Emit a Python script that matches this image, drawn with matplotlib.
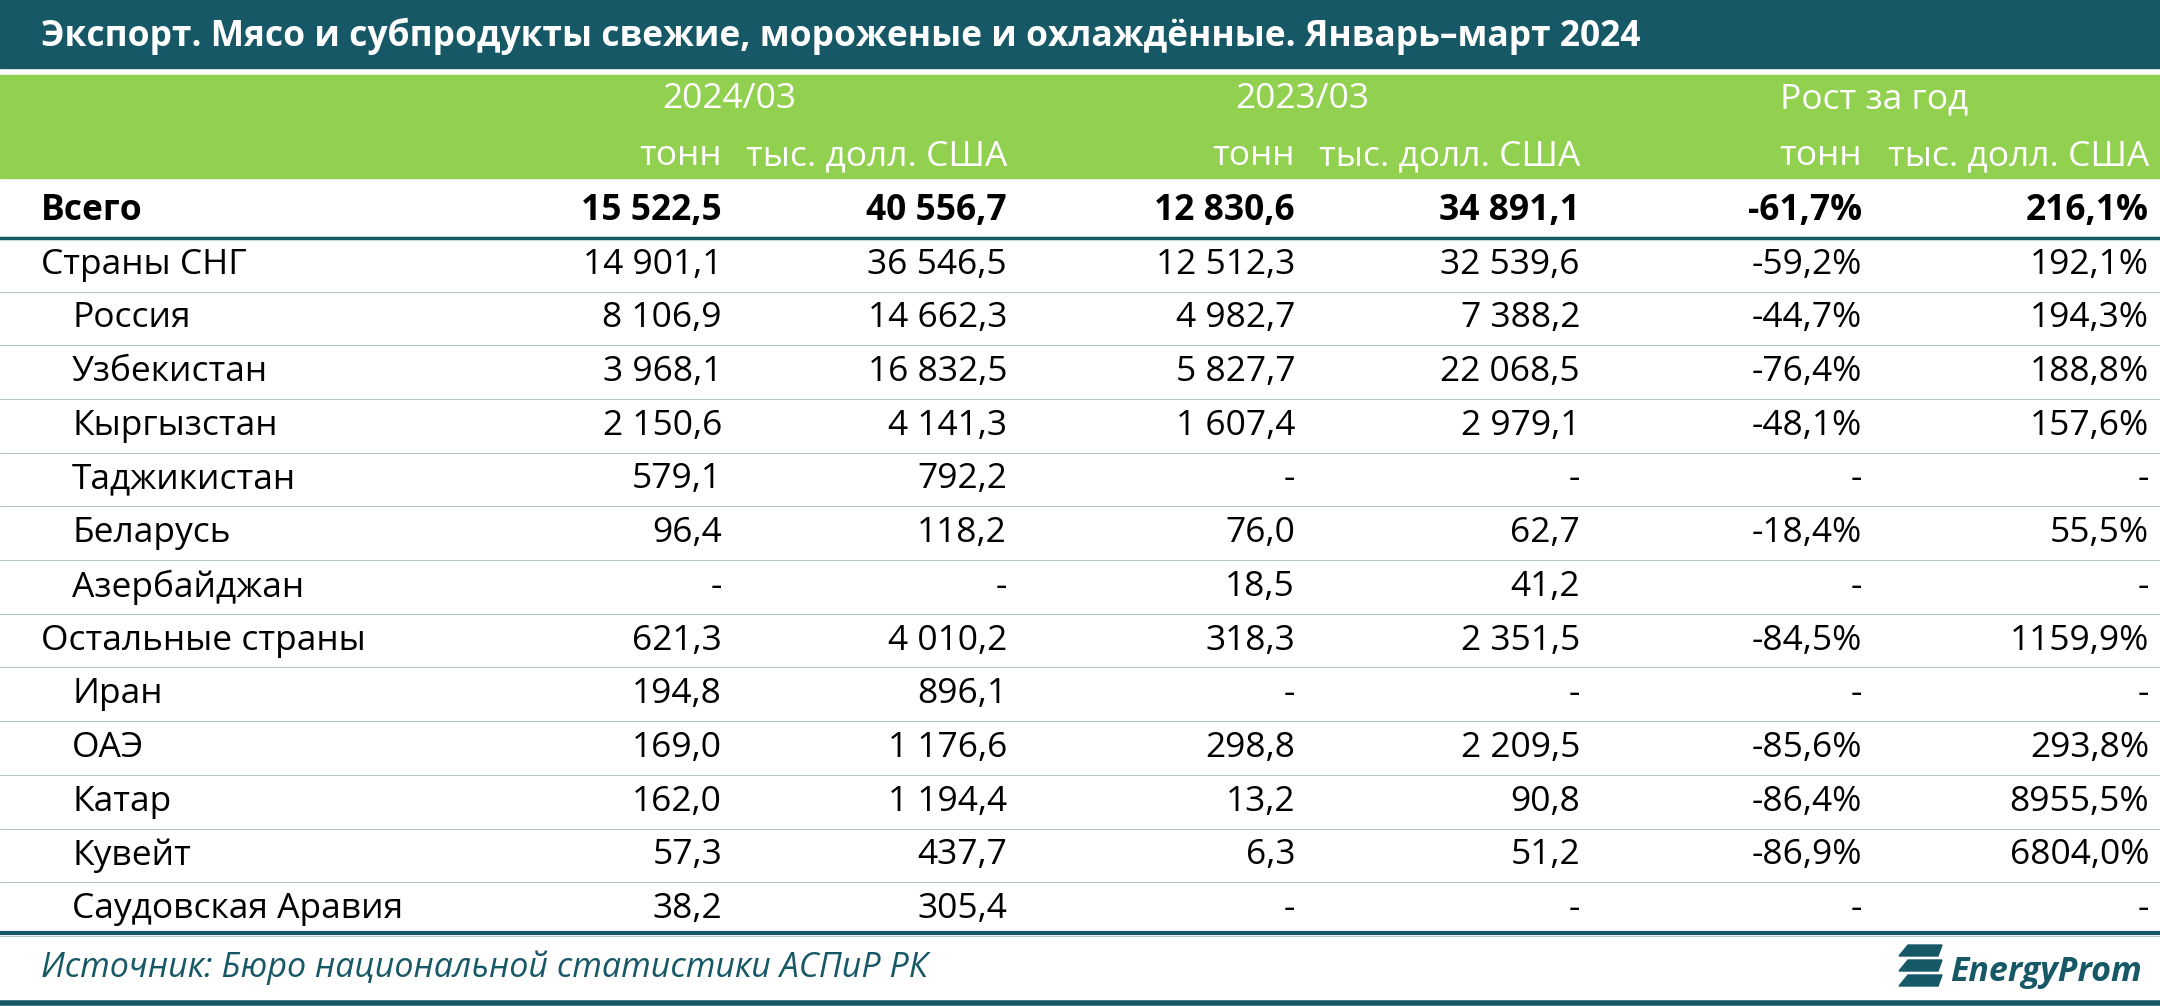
import matplotlib
matplotlib.use("Agg")
import matplotlib.pyplot as plt
from matplotlib.patches import Rectangle, Polygon

labels = ["Всего", "Страны СНГ", "Россия", "Узбекистан", "Кыргызстан", "Таджикистан", "Беларусь",
          "Азербайджан", "Остальные страны", "Иран", "ОАЭ", "Катар", "Кувейт", "Саудовская Аравия"]
indent = [0, 0, 1, 1, 1, 1, 1, 1, 0, 1, 1, 1, 1, 1]
t2024 = [15522.5, 14901.1, 8106.9, 3968.1, 2150.6, 579.1, 96.4, None, 621.3, 194.8, 169.0, 162.0, 57.3, 38.2]
usd2024 = [40556.7, 36546.5, 14662.3, 16832.5, 4141.3, 792.2, 118.2, None, 4010.2, 896.1, 1176.6, 1194.4, 437.7, 305.4]
t2023 = [12830.6, 12512.3, 4982.7, 5827.7, 1607.4, None, 76.0, 18.5, 318.3, None, 298.8, 13.2, 6.3, None]
usd2023 = [34891.1, 32539.6, 7388.2, 22068.5, 2979.1, None, 62.7, 41.2, 2351.5, None, 2209.5, 90.8, 51.2, None]
g_t = [-61.7, -59.2, -44.7, -76.4, -48.1, None, -18.4, None, -84.5, None, -85.6, -86.4, -86.9, None]
g_usd = [216.1, 192.1, 194.3, 188.8, 157.6, None, 55.5, None, 1159.9, None, 293.8, 8955.5, 6804.0, None]
groups = ["2024/03", "2023/03", "Рост за год"]
units = ["тонн", "тыс. долл. США"]

def fnum(v):
    if v is None:
        return "-"
    return f"{v:,.1f}".replace(",", " ").replace(".", ",")

def fpct(v):
    if v is None:
        return "-"
    return f"{v:.1f}%".replace(".", ",")

W, H = 2160, 1006
fig = plt.figure(figsize=(W/100, H/100), dpi=100)
ax = fig.add_axes([0, 0, 1, 1])
ax.set_xlim(0, W); ax.set_ylim(H, 0); ax.axis("off")
plt.rcParams['font.family'] = ['Open Sans', 'DejaVu Sans']
TEAL = "#175866"; GREEN = "#92d050"
fs = 25.5

ax.add_patch(Rectangle((0, 0), W, 68, color=TEAL))
ax.text(41, 36, "Экспорт. Мясо и субпродукты свежие, мороженые и охлаждённые. Январь–март 2024",
        color="white", fontsize=fs, fontweight="bold", va="center")
ax.add_patch(Rectangle((0, 75), W, 103, color=GREEN))

right = [722, 1007, 1295, 1580, 1862, 2149]
gcent = [729, 1302, 1874]
for g, c in zip(groups, gcent):
    ax.text(c, 99, g, color="white", fontsize=fs, ha="center", va="center")
for i, r in enumerate(right):
    ax.text(r, 156, units[i % 2], color="white", fontsize=fs, ha="right", va="center")

y0, dy = 211, 53.7
for i, lab in enumerate(labels):
    y = y0 + i*dy
    bold = "bold" if i == 0 else "normal"
    ax.text(72 if indent[i] else 41, y, lab, fontsize=fs, va="center", fontweight=bold, color="black")
    vals = [fnum(t2024[i]), fnum(usd2024[i]), fnum(t2023[i]), fnum(usd2023[i]), fpct(g_t[i]), fpct(g_usd[i])]
    for v, r in zip(vals, right):
        ax.text(r, y, v, fontsize=fs, ha="right", va="center", fontweight=bold, color="black")
    yl = y + dy/2
    ax.plot([0, W], [yl, yl], color=TEAL, lw=2.5 if i == 0 else 0.6, alpha=1 if i == 0 else 0.4)

ax.plot([0, W], [933, 933], color=TEAL, lw=3)
ax.plot([0, W], [1003, 1003], color=TEAL, lw=4)
ax.text(41, 968, "Источник: Бюро национальной статистики АСПиР РК", fontsize=fs-1,
        style="italic", color=TEAL, va="center")
ax.text(2142, 972, "EnergyProm", fontsize=fs-1, style="italic", fontweight="bold",
        color=TEAL, ha="right", va="center")
# logo icon: three slanted bars
for k in range(3):
    yt = 945 + k*15
    ax.add_patch(Polygon([[1908, yt], [1942, yt], [1938, yt+11], [1899, yt+11]], color=TEAL))
fig.savefig("out.png", dpi=100)
